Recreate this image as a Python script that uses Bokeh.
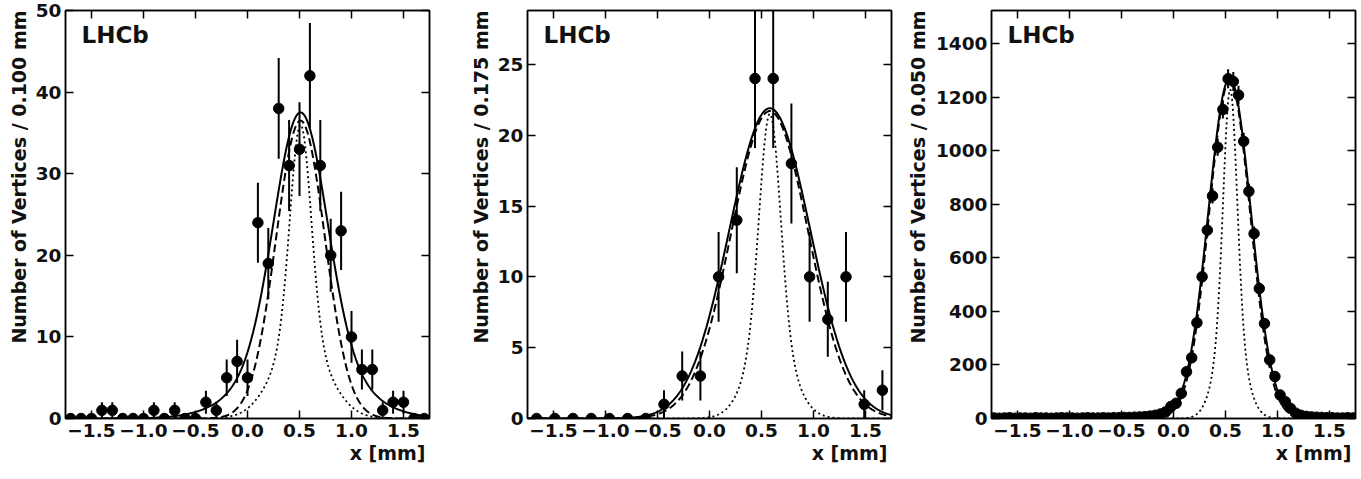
import numpy as np
from bokeh.plotting import figure
from bokeh.layouts import row
from bokeh.models import Label, LinearAxis, FixedTicker, Range1d, Title
from bokeh.embed import file_html
from bokeh.resources import INLINE

FONT = "DejaVu Sans"

# ---------------- data ----------------
x_lo, x_hi = -1.75, 1.75
x_ticks = [-1.5, -1.0, -0.5, 0.0, 0.5, 1.0, 1.5]
x_tick_labels = ["\u22121.5", "\u22121.0", "\u22120.5", "0.0", "0.5", "1.0", "1.5"]
x_label = "x [mm]"

# panel 1: bins of 0.100 mm
bin1 = 0.100
counts1 = [0, 0, 0, 1, 1, 0, 0, 0, 1, 0, 1, 0, 0, 2, 1, 5, 7, 5, 24, 19,
           38, 31, 33, 42, 31, 20, 23, 10, 6, 6, 1, 2, 2, 0, 0]
ymax1 = 50
yticks1 = [0, 10, 20, 30, 40, 50]
ylabel1 = "Number of Vertices / 0.100 mm"
# fit components: (amplitude, mean, sigma)
fit1_total = [(29.5, 0.51, 0.25), (8.0, 0.51, 0.47)]
fit1_dashed = [(36.5, 0.51, 0.235)]
fit1_dotted = [(26.0, 0.51, 0.10), (10.0, 0.51, 0.25)]
bkg1 = 0.0

# panel 2: bins of 0.175 mm
bin2 = 0.175
counts2 = [0, 0, 0, 0, 0, 0, 0, 1, 3, 3, 10, 14, 24, 24, 18, 10, 7, 10, 1, 2]
ymax2 = 28.8
yticks2 = [0, 5, 10, 15, 20, 25]
ylabel2 = "Number of Vertices / 0.175 mm"
fit2_total = [(21.9, 0.58, 0.39)]
fit2_dashed = [(21.7, 0.58, 0.37)]
fit2_dotted = [(15.5, 0.58, 0.10), (6.0, 0.58, 0.20)]
bkg2 = 0.0

# panel 3: bins of 0.050 mm
bin3 = 0.050
counts3 = [2, 1, 2, 3, 1, 2, 2, 1, 3, 2, 2, 1, 2, 3, 2, 2, 1, 2, 3, 2,
           2, 3, 2, 3, 3, 4, 4, 5, 6, 7, 9, 12, 17, 25, 45, 57, 94, 175, 227, 358,
           530, 704, 832, 1014, 1155, 1270, 1260, 1209, 1036, 849, 691, 486, 355, 219, 157, 88,
           63, 38, 20, 12, 8, 6, 5, 4, 3, 3, 2, 2, 3, 2]
ymax3 = 1525
yticks3 = [0, 200, 400, 600, 800, 1000, 1200, 1400]
ylabel3 = "Number of Vertices / 0.050 mm"
fit3_total = [(1268.0, 0.54, 0.205)]
fit3_dashed = [(1262.0, 0.54, 0.198)]
fit3_dotted = [(880.0, 0.545, 0.065), (350.0, 0.545, 0.13)]
bkg3 = 3.0


def model(xs, comps, bkg=0.0):
    out = np.full_like(xs, bkg)
    for a, m, s in comps:
        out += a * np.exp(-0.5 * ((xs - m) / s) ** 2)
    return out


def make_panel(counts, bw, ymax, yticks, ylabel, tot, dash, dot, bkg,
               left, right, ytitle_standoff):
    p = figure(width=left + 364 + right, height=479,
               frame_width=364, frame_height=408,
               min_border_left=left, min_border_right=right,
               min_border_top=10, min_border_bottom=61,
               x_range=Range1d(x_lo, x_hi), y_range=Range1d(0, ymax),
               output_backend="svg", toolbar_location=None,
               background_fill_color="white", border_fill_color="white")
    p.grid.visible = False
    p.outline_line_color = "black"
    p.outline_line_width = 1.5

    # axes styling
    for ax in (p.xaxis[0], p.yaxis[0]):
        ax.major_tick_in = 8
        ax.major_tick_out = 0
        ax.minor_tick_line_color = None
        ax.axis_line_width = 1.5
        ax.major_tick_line_width = 1.5
        ax.major_label_text_font = FONT
        ax.major_label_text_font_style = "bold"
        ax.major_label_text_font_size = "18.5px"
        ax.major_label_text_color = "#111111"
    p.xaxis.ticker = FixedTicker(ticks=x_ticks)
    p.xaxis.major_label_overrides = {t: l for t, l in zip(x_ticks, x_tick_labels)}
    p.xaxis.major_label_standoff = 5
    p.yaxis.ticker = FixedTicker(ticks=yticks)
    p.yaxis.major_label_standoff = 4

    top = LinearAxis(ticker=FixedTicker(ticks=x_ticks))
    top.major_label_overrides = {t: "" for t in x_ticks}
    rgt = LinearAxis(ticker=FixedTicker(ticks=yticks))
    rgt.major_label_overrides = {t: "" for t in yticks}
    for ax in (top, rgt):
        ax.major_tick_in = 8
        ax.major_tick_out = 0
        ax.minor_tick_line_color = None
        ax.axis_line_width = 1.5
        ax.major_tick_line_width = 1.5
        ax.major_label_standoff = 0
    p.add_layout(top, "above")
    p.add_layout(rgt, "right")

    # axis titles, aligned to the end of each axis
    p.add_layout(Title(text=ylabel, align="right", offset=0,
                       standoff=ytitle_standoff, text_font=FONT,
                       text_font_style="bold", text_font_size="19px",
                       text_color="#111111"), "left")
    p.add_layout(Title(text=x_label, align="right", offset=4, standoff=0,
                       text_font=FONT, text_font_style="bold",
                       text_font_size="19px", text_color="#111111"), "below")

    # curves
    xs = np.linspace(x_lo, x_hi, 701)
    p.line(xs, model(xs, dot), line_color="black", line_width=1.8,
           line_dash="2 3")
    p.line(xs, model(xs, dash), line_color="black", line_width=2,
           line_dash="8 4")
    p.line(xs, model(xs, tot, bkg), line_color="black", line_width=2)

    # data points
    n = len(counts)
    cx = np.array([x_lo + bw * (k + 0.5) for k in range(n)])
    cy = np.array(counts, dtype=float)
    err = np.sqrt(cy)
    p.segment(cx, cy - err, cx, cy + err, line_color="black", line_width=2)
    p.scatter(cx, cy, marker="circle", size=10.5, fill_color="black",
              line_color="black")

    # experiment tag
    p.add_layout(Label(x=x_lo, y=ymax, x_offset=16, y_offset=-11,
                       text="LHCb", text_font=FONT, text_font_style="bold",
                       text_font_size="23px", text_baseline="top",
                       text_align="left", text_color="#111111"))
    return p


p1 = make_panel(counts1, bin1, ymax1, yticks1, ylabel1, fit1_total,
                fit1_dashed, fit1_dotted, bkg1, 65, 21, 5)
p2 = make_panel(counts2, bin2, ymax2, yticks2, ylabel2, fit2_total,
                fit2_dashed, fit2_dotted, bkg2, 77, 9, 5)
p3 = make_panel(counts3, bin3, ymax3, yticks3, ylabel3, fit3_total,
                fit3_dashed, fit3_dotted, bkg3, 90, 7, 9)

layout = row(p1, p2, p3, spacing=0)
open("out.html", "w").write(file_html(layout, INLINE))
